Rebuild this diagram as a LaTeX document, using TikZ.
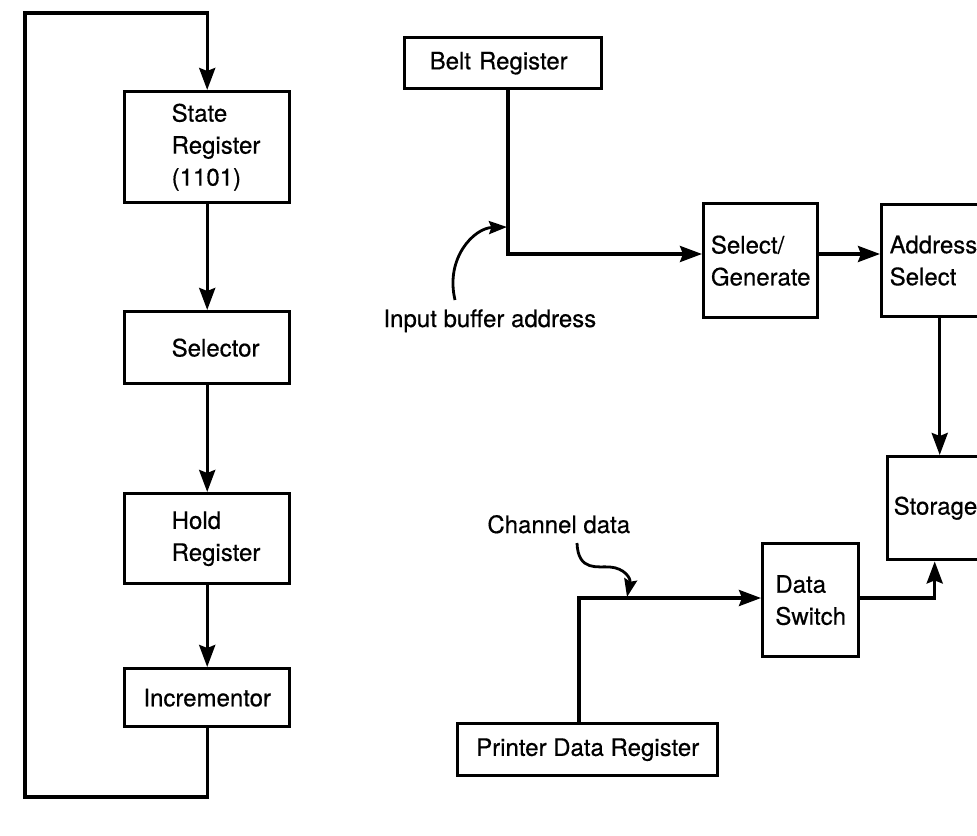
\documentclass[tikz,border=0pt]{standalone}
\usepackage{fontspec}
\setmainfont{TeX Gyre Heros}[UprightFeatures={FakeBold=0.5}]
\usetikzlibrary{arrows.meta}
\hfuzz=200pt
\hbadness=10000
\begin{document}
\begin{tikzpicture}[x=0.5pt,y=-0.5pt,
  every node/.style={font=\fontsize{12}{16}\selectfont},
  box/.style={draw, line width=1.7pt, rectangle, anchor=north west, inner ysep=0pt, align=center},
  lbox/.style={box, align=left},
  wire/.style={line width=1.7pt},
  arr/.style={wire, -{Stealth[length=11pt,width=8pt,inset=1.5pt]}},
  carr/.style={line width=1.4pt, -{Stealth[length=9pt,width=6.5pt,inset=1.2pt]}}
]
\useasboundingbox (0,0) rectangle (977,835);
\clip (0,0) rectangle (977,835);

% left column
\node[lbox, minimum width=82.5pt, minimum height=55.5pt, inner xsep=23.5pt, text width=35.5pt] (state) at (123,90) {State\\Register\\(1101)};
\node[lbox, minimum width=82.5pt, minimum height=36pt, inner xsep=23.5pt, text width=35.5pt] (sel) at (123,310) {Selector};
\node[lbox, minimum width=82.5pt, minimum height=45pt, inner xsep=23.5pt, text width=35.5pt] (hold) at (123,492) {Hold\\Register};
\node[box, minimum width=82.5pt, minimum height=29pt, inner xsep=0pt] (inc) at (123,667) {Incrementor};

\coordinate (lb) at (25,797);
\coordinate (lt) at (25,13);
\draw[arr] (state.south) -- (sel.north);
\draw[arr] (sel.south) -- (hold.north);
\draw[arr] (hold.south) -- (inc.north);
\draw[arr, line join=miter] (inc.south) |- (lb) -- (lt) -| (state.north);

% right part
\node[lbox, minimum width=98.5pt, minimum height=25.5pt, inner xsep=12.5pt, text width=73.5pt] (belt) at (403,36) {Belt Register};
\node[box, minimum width=57pt, minimum height=57pt, inner xsep=0pt, align=left] (selgen) at (702,202) {Select/\\Generate};
\node[lbox, minimum width=58pt, minimum height=56pt, inner xsep=4pt, text width=50pt] (addr) at (880,203) {Address\\Select};
\node[lbox, minimum width=47pt, minimum height=51.5pt, inner xsep=3pt, text width=41pt] (stor) at (886,455) {Storage};
\node[box, minimum width=48pt, minimum height=56.5pt, inner xsep=0pt, align=left] (ds) at (761,542) {Data\\Switch};
\node[box, minimum width=130pt, minimum height=26pt, inner xsep=0pt] (pdr) at (456,722) {Printer Data Register};

\node[anchor=base west, inner sep=0pt] (iba) at (383,327) {Input buffer address};
\node[anchor=base west, inner sep=0pt] (chd) at (487,533) {Channel data};

\coordinate (j1) at (508,254);
\coordinate (j2) at (579,598);
\draw[arr, line join=miter] (belt.south -| j1) -- (j1) -- (j1 -| selgen.west);
\draw[arr] (selgen.east |- j1) -- (addr.west |- j1);
\draw[arr] (addr.south) -- (addr.south |- stor.north);
\draw[arr, line join=miter] (pdr.north -| j2) -- (j2) -- (j2 -| ds.west);
\draw[arr, line join=miter] (ds.east |- j2) -| (stor.south);

% curved pointers
\coordinate (ibs) at (455,300);
\coordinate (ibe) at (507,227);
\draw[carr] (ibs) .. controls (445,258) and (474,228) .. (ibe);
\coordinate (cds) at (577,543);
\coordinate (cde) at (627,597);
\draw[carr] (cds) .. controls (578,572) and (598,566) .. (610,567) .. controls (624,568) and (631,578) .. (cde);
\end{tikzpicture}
\end{document}
